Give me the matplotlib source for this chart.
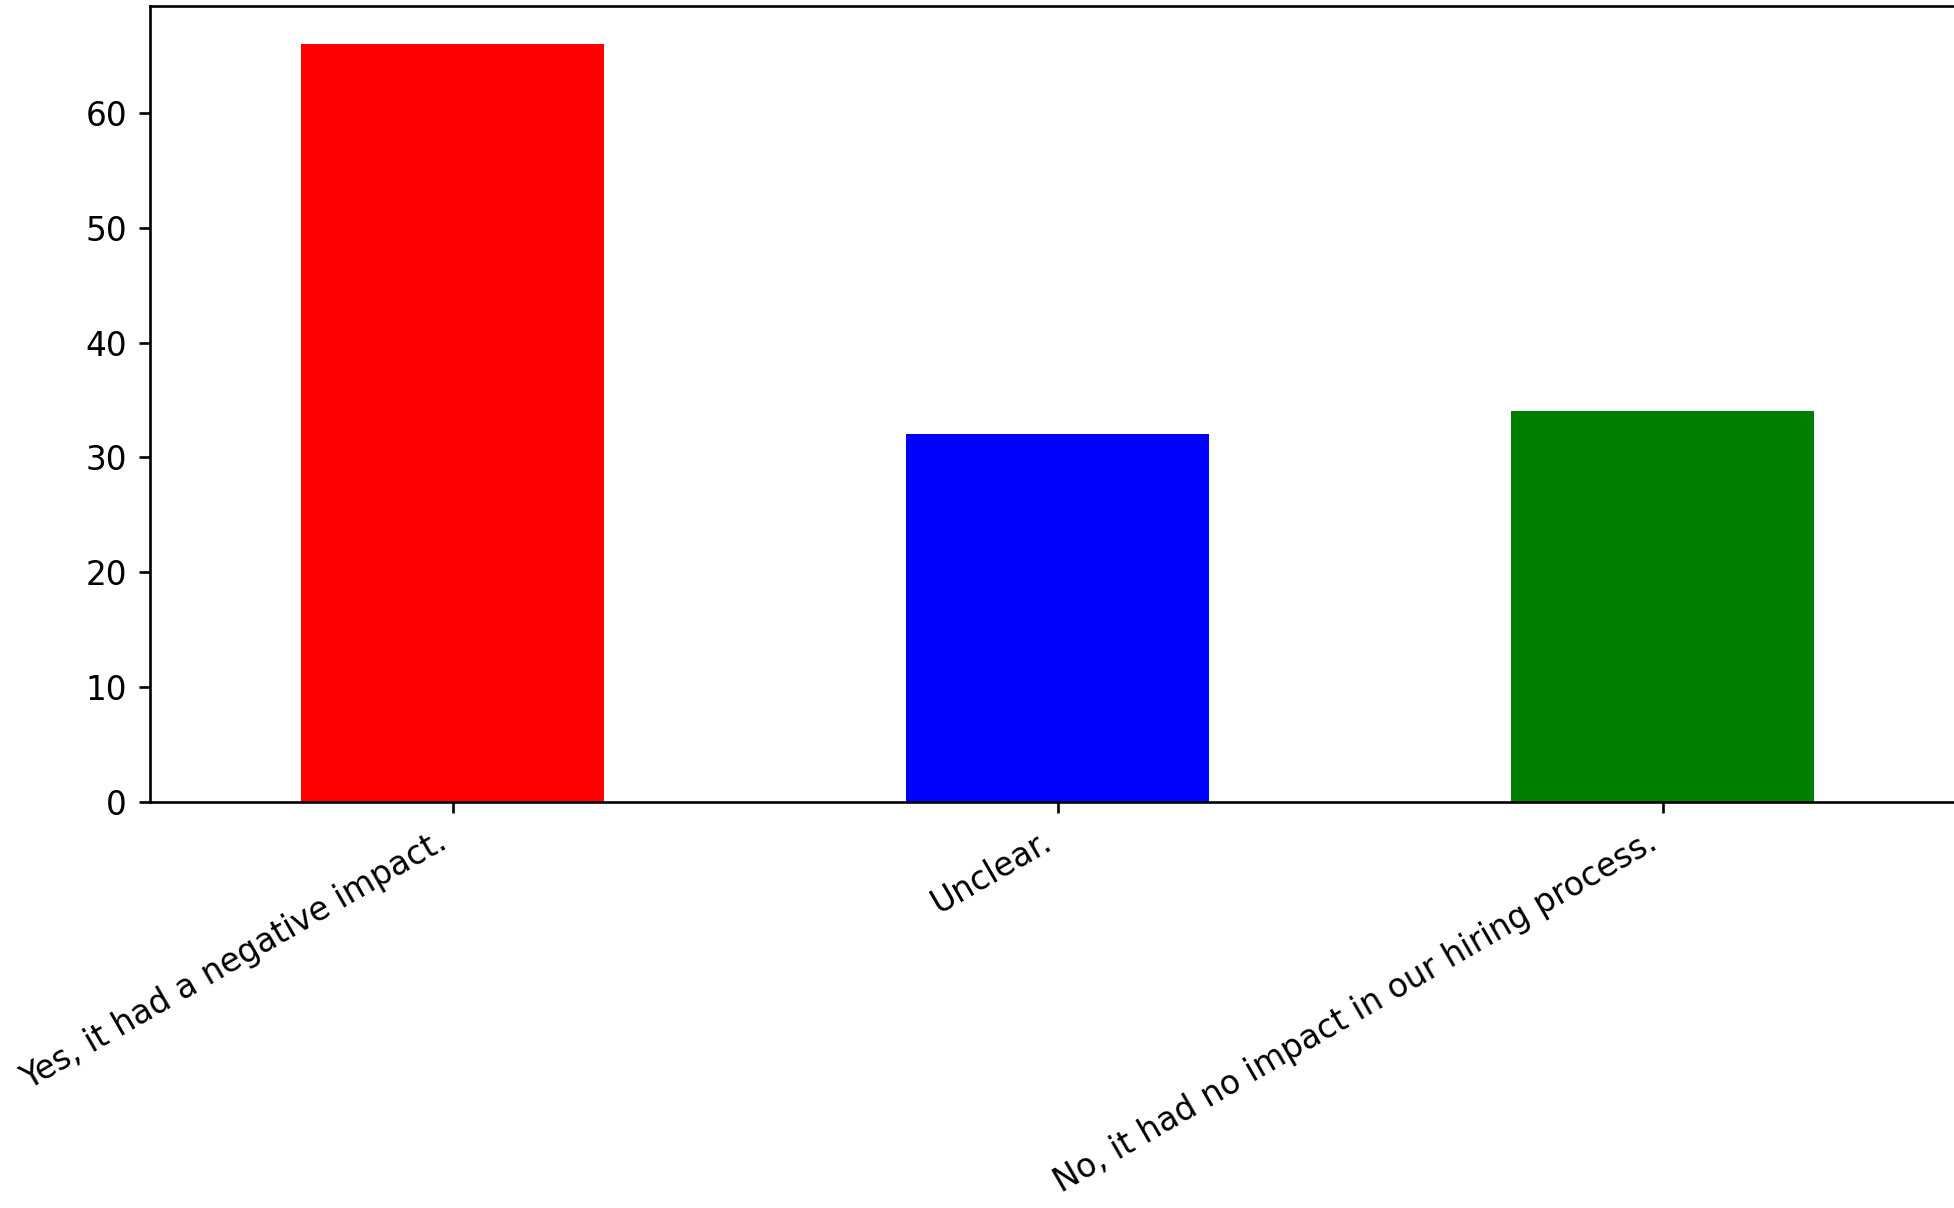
import pandas as pd
import matplotlib.pyplot as plt

answers = ['Yes, it had a negative impact.', 'Unclear.', 'No, it had no impact in our hiring process.']
counts = [66, 32, 34]
colors = ['red', 'blue', 'green']

fig = plt.figure(figsize=(1954/236, 1208/236), dpi=236)
ax = fig.add_axes([150/1954, 406/1208, 1815/1954, 796/1208])
s = pd.Series(counts, index=answers)
s.plot(kind='bar', color=colors, ax=ax)
plt.xticks(rotation=30, ha='right')
fig.savefig('out.png', dpi=236)
